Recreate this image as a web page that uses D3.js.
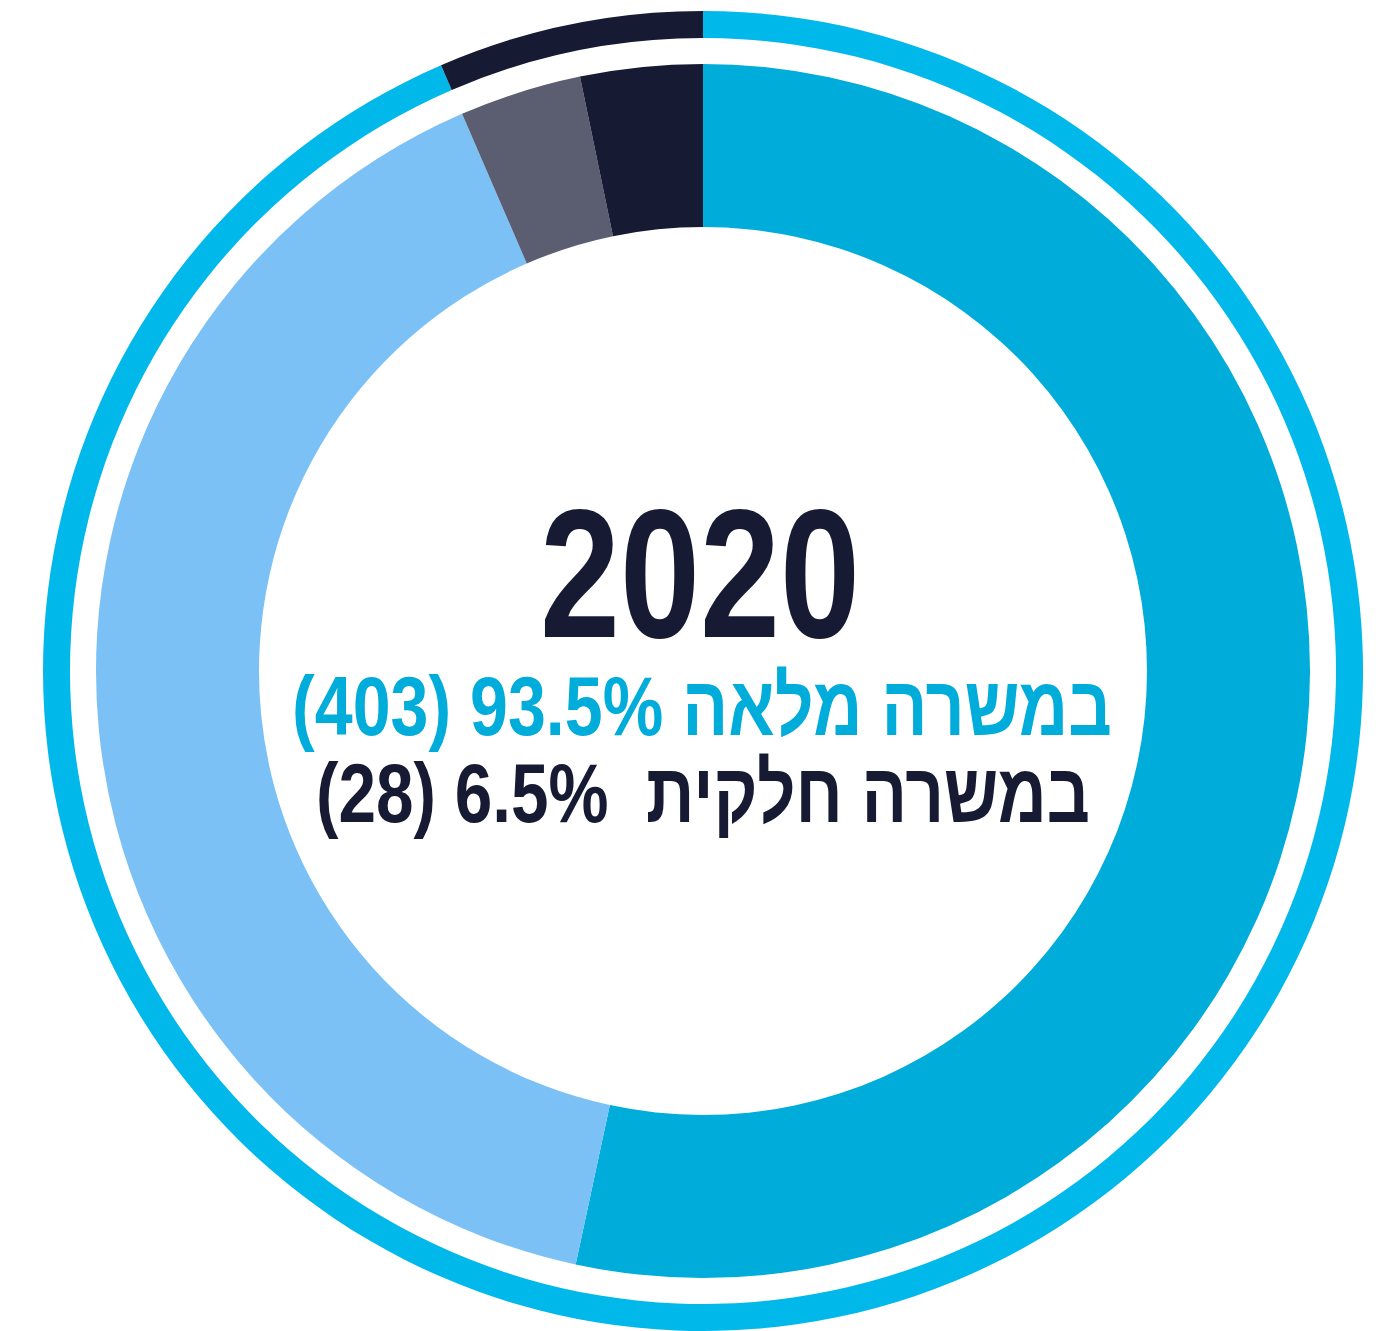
<!DOCTYPE html>
<html>
<head>
<meta charset="utf-8">
<script src="https://cdn.jsdelivr.net/npm/d3@7/dist/d3.min.js"></script>
<style>
    body { margin: 0; background: #fff; }
    svg { display: block; }
    .lbl { font-family: "Liberation Sans Narrow", "Liberation Sans", "DejaVu Sans Condensed", sans-serif; font-weight: bold; white-space: pre; }
</style>
</head>
<body>
<svg id="chart" width="1376" height="1331"></svg>
<script>
// inner ring - employees split 4 ways
const innerGroups = ["מלאה א", "מלאה ב", "חלקית ב", "חלקית א"];
const innerValues = [230, 173, 14, 14];
const innerColors = ["#00acd9", "#7bc1f6", "#5a5e70", "#161a33"];

// outer ring - full time vs part time
const outerGroups = ["משרה מלאה", "משרה חלקית"];
const outerValues = [403, 28];
const outerColors = ["#00b9ea", "#161a33"];

// center text
const yearLabel = "2020";
const fullLabel = "במשרה מלאה 93.5% (403)";
const partLabel = "במשרה חלקית  6.5% (28)";

let svg = d3.select("#chart"),
    cx = 703,
    cy = 671;

let g = svg.append("g").attr("transform", "translate(" + cx + "," + cy + ")");

let pie = d3.pie().sort(null).value(function (d) { return d; });

let innerArc = d3.arc().innerRadius(444).outerRadius(607);
let outerArc = d3.arc().innerRadius(633).outerRadius(660);

g.selectAll("path.inner")
    .data(pie(innerValues))
    .enter().append("path")
    .attr("class", "inner")
    .attr("d", innerArc)
    .attr("fill", function (d, i) { return innerColors[i]; });

g.selectAll("path.outer")
    .data(pie(outerValues))
    .enter().append("path")
    .attr("class", "outer")
    .attr("d", outerArc)
    .attr("fill", function (d, i) { return outerColors[i]; });

// text lines, squeezed to the width seen in the picture
let lines = [
    {text: yearLabel, x: 700, y: 637, size: 183, width: 320, color: "#161a33"},
    {text: fullLabel, x: 702, y: 735, size: 84, width: 820, color: "#00acd9"},
    {text: partLabel, x: 703, y: 822, size: 84, width: 774, color: "#161a33"}
];

lines.forEach(function (l) {
    let lg = svg.append("g");
    let t = lg.append("text")
        .attr("class", "lbl")
        .attr("direction", "rtl")
        .attr("text-anchor", "middle")
        .attr("font-size", l.size)
        .attr("fill", l.color)
        .text(l.text);
    let w = t.node().getBBox().width;
    let sx = l.width / w;
    lg.attr("transform", "translate(" + l.x + "," + l.y + ") scale(" + sx + ",1)");
});
</script>
</body>
</html>
